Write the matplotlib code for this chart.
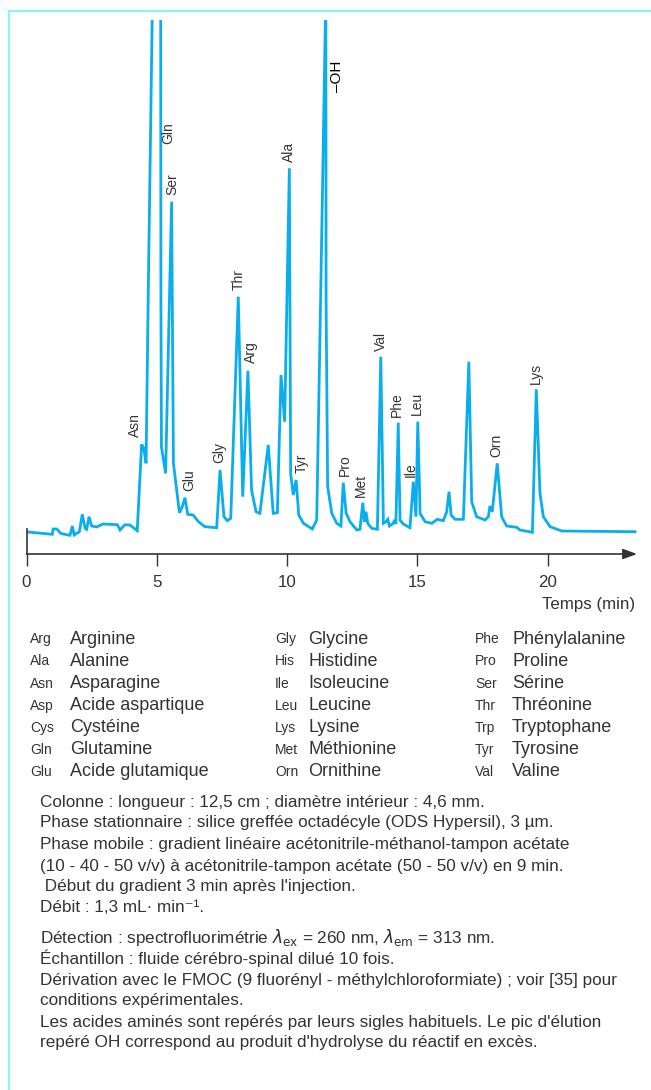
import matplotlib
matplotlib.use("Agg")
import matplotlib.pyplot as plt
from matplotlib.lines import Line2D

W, H = 651, 1090

# chromatogram trace: time (min) and detector response (arbitrary units)
time_min = [0.05, 0.99, 1.02, 1.16, 1.31, 1.54, 1.67, 1.76, 1.83, 2.03, 2.14, 2.25, 2.31, 2.40,
            2.50, 2.69, 2.93, 3.49, 3.59, 3.78, 3.97, 4.25, 4.42, 4.50, 4.59, 4.67, 4.86, 5.00,
            5.15, 5.16, 5.18, 5.34, 5.57, 5.64, 5.87, 5.98, 6.08, 6.19, 6.40, 6.60, 6.85, 7.30,
            7.43, 7.58, 7.71, 7.84, 8.13, 8.30, 8.50, 8.64, 8.81, 8.96, 9.28, 9.47, 9.63, 9.77,
            9.91, 10.09, 10.14, 10.24, 10.35, 10.45, 10.63, 10.97, 11.14, 11.29, 11.49, 11.50,
            11.56, 11.72, 11.91, 12.07, 12.16, 12.27, 12.42, 12.68, 12.80, 12.91, 12.97, 13.03,
            13.10, 13.25, 13.47, 13.60, 13.70, 13.80, 13.87, 13.93, 14.08, 14.13, 14.18, 14.27,
            14.34, 14.46, 14.72, 14.85, 14.95, 15.02, 15.11, 15.30, 15.56, 15.77, 16.00, 16.13,
            16.22, 16.30, 16.45, 16.77, 16.98, 17.09, 17.28, 17.60, 17.73, 17.79, 17.88, 18.07,
            18.24, 18.43, 18.82, 18.94, 19.42, 19.57, 19.71, 19.84, 20.10, 20.55, 23.36]
response = [22, 19.7, 25, 25, 20.7, 19.3, 18.7, 28, 19, 22.3, 39.7, 25.7, 24.7, 37.3,
            28, 27, 30, 29.3, 24, 29.3, 29, 23.3, 109.7, 106, 90.7, 254, 600, 580,
            600, 254, 107, 80.7, 352.3, 90.7, 41.3, 47.3, 56.3, 39.7, 39, 32.3, 27.3, 26.3,
            84, 37.3, 33.3, 35.7, 257.3, 57.3, 183.3, 64, 42.3, 40.7, 109, 40.7, 41.3, 179,
            132.3, 385.7, 80.7, 59, 74, 39, 30.7, 25, 34, 254, 560, 254,
            67.3, 40.7, 30.7, 28, 71.3, 40.7, 32.3, 24, 24.7, 51.3, 32.3, 42.3,
            30.7, 25.7, 24.7, 197.3, 30.7, 32.3, 34.7, 28, 30.7, 34, 30, 131.3,
            34, 30, 26.3, 72.3, 37.3, 132.3, 40.7, 32.3, 30.7, 34.7, 33.3, 42.3,
            62.3, 39, 34.7, 34.7, 192.3, 52.3, 37.3, 34, 37.3, 48, 42.3, 90.7,
            37.3, 28, 26.7, 24, 21.7, 164.7, 60.7, 37.3, 27.3, 23, 22.3]

# peak labels: name, time, response at label foot
peak_names = ["Asn", "Gln", "Ser", "Glu", "Gly", "Thr", "Arg", "Ala", "Tyr",
              "Pro", "Met", "Val", "Phe", "Ile", "Leu", "Orn", "Lys"]
peak_times = [4.17, 5.45, 5.59, 6.24, 7.39, 8.16, 8.60, 10.08, 10.56,
              12.21, 12.82, 13.61, 14.20, 14.74, 14.99, 18.02, 19.54]
peak_label_y = [117, 410, 359, 63, 91, 264, 191, 392, 81,
                78, 57, 203, 137, 77, 139, 97, 170]

x_ticks = [0, 5, 10, 15, 20]

legend_cols = [
    [("Arg", "Arginine"), ("Ala", "Alanine"), ("Asn", "Asparagine"), ("Asp", "Acide aspartique"),
     ("Cys", "Cystéine"), ("Gln", "Glutamine"), ("Glu", "Acide glutamique")],
    [("Gly", "Glycine"), ("His", "Histidine"), ("Ile", "Isoleucine"), ("Leu", "Leucine"),
     ("Lys", "Lysine"), ("Met", "Méthionine"), ("Orn", "Ornithine")],
    [("Phe", "Phénylalanine"), ("Pro", "Proline"), ("Ser", "Sérine"), ("Thr", "Thréonine"),
     ("Trp", "Tryptophane"), ("Tyr", "Tyrosine"), ("Val", "Valine")],
]

caption_lines = [
    "Colonne : longueur : 12,5 cm ; diamètre intérieur : 4,6 mm.",
    "Phase stationnaire : silice greffée octadécyle (ODS Hypersil), 3 µm.",
    "Phase mobile : gradient linéaire acétonitrile-méthanol-tampon acétate",
    "(10 - 40 - 50 v/v) à acétonitrile-tampon acétate (50 - 50 v/v) en 9 min.",
    " Début du gradient 3 min après l'injection.",
    "Débit : 1,3 mL· min⁻¹.",
    r"Détection : spectrofluorimétrie $\lambda_{\rm ex}$ = 260 nm, $\lambda_{\rm em}$ = 313 nm.",
    "Échantillon : fluide cérébro-spinal dilué 10 fois.",
    "Dérivation avec le FMOC (9 fluorényl - méthylchloroformiate) ; voir [35] pour",
    "conditions expérimentales.",
    "Les acides aminés sont repérés par leurs sigles habituels. Le pic d'élution",
    "repéré OH correspond au produit d'hydrolyse du réactif en excès.",
]
caption_y = [803, 823, 845, 866, 886, 907, 937, 958, 980, 1000, 1022, 1043]

TRACE = "#0AAEEC"
INK = "#333333"
FRAME = "#8CF4F6"
FONT = ["Liberation Sans", "DejaVu Sans"]

plt.rcParams["font.family"] = FONT


def fx(px):
    return px / W


def fy(py):
    return 1 - py / H


fig = plt.figure(figsize=(W / 100, H / 100), dpi=100)

# light cyan frame (top and left only)
fig.add_artist(Line2D([fx(9), 1], [fy(11), fy(11)], color=FRAME, lw=1.6))
fig.add_artist(Line2D([fx(9), fx(9)], [fy(11), 0], color=FRAME, lw=1.6))

x_left, x_right = 26.5, 637
y_axis, y_top = 554, 20
ax = fig.add_axes([fx(x_left), fy(y_axis), (x_right - x_left) / W, (y_axis - y_top) / H])
t_max = (x_right - x_left) / 26.05
ax.set_xlim(0, t_max)
ax.set_ylim(0, 534)

ax.plot(time_min, response, color=TRACE, lw=2.0, solid_joinstyle="miter")

for name, t, y in zip(peak_names, peak_times, peak_label_y):
    ax.text(t, y, name, rotation=90, ha="center", va="bottom", fontsize=10, color=INK)
ax.text(11.91, 462, "–OH", rotation=90, ha="center", va="bottom", fontsize=11, color="black")

for side in ["top", "right", "bottom"]:
    ax.spines[side].set_visible(False)
ax.spines["left"].set_bounds(0, 25)
ax.spines["left"].set_color(INK)
ax.spines["left"].set_linewidth(1.2)
ax.set_yticks([])

ax.annotate("", xy=(t_max, 0), xytext=(0, 0), xycoords="data",
            arrowprops=dict(arrowstyle="-|>,head_length=0.6,head_width=0.22",
                            color=INK, lw=1.2, mutation_scale=14, shrinkA=0, shrinkB=0),
            annotation_clip=False)
ax.set_xticks(x_ticks)
ax.set_xticklabels([str(v) for v in x_ticks])
ax.tick_params(axis="x", direction="out", length=8.6, width=1.0, color=INK,
               labelsize=12.2, labelcolor=INK, pad=6.5)

fig.text(fx(588.5), fy(604), "Temps (min)", ha="center", va="center", fontsize=12.2, color=INK)

# abbreviation table
abbr_x = [30, 275, 475]
name_x = [70, 308, 512]
row_y = [639, 661, 684, 706, 728, 750, 772]
for col, ax_pos, nx in zip(legend_cols, abbr_x, name_x):
    for (abbr, name), ry in zip(col, row_y):
        fig.text(fx(ax_pos), fy(ry), abbr, ha="left", va="center", fontsize=10, color=INK)
        fig.text(fx(nx), fy(ry), name, ha="left", va="center", fontsize=13, color=INK)

for line, cy in zip(caption_lines, caption_y):
    fig.text(fx(40), fy(cy), line, ha="left", va="center", fontsize=12.3, color=INK)

fig.savefig("out.png", dpi=100)
